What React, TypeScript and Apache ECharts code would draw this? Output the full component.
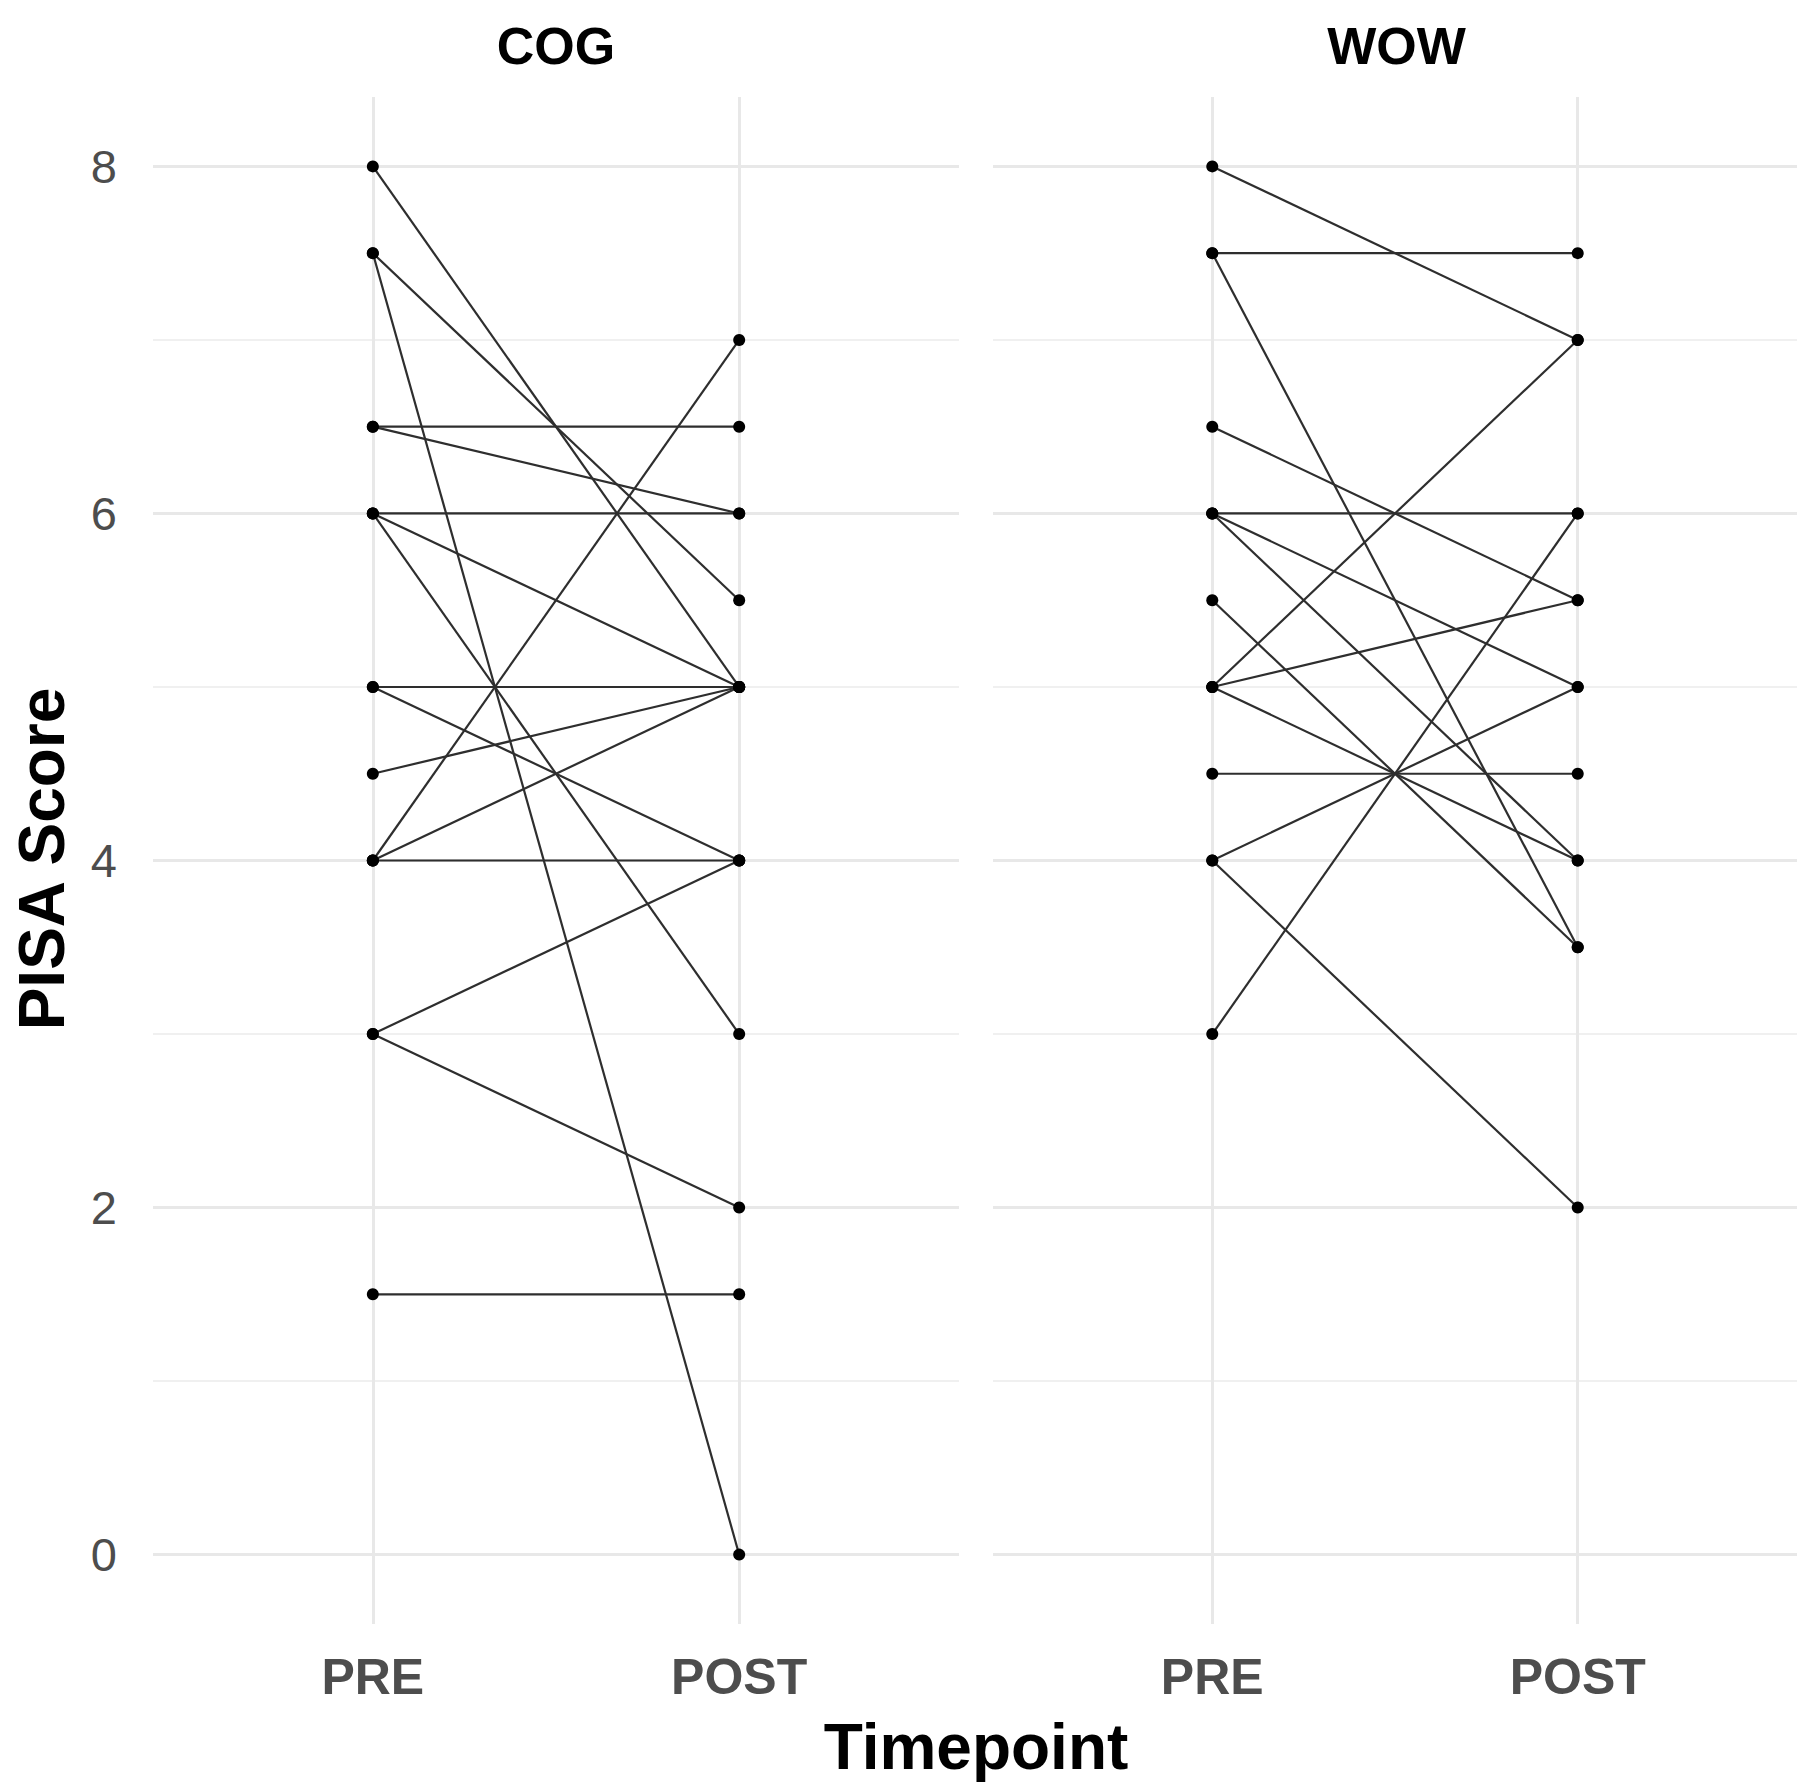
import React, { useEffect, useRef } from "react";
import * as echarts from "echarts";

const panels = ["COG", "WOW"];
const timepoints = ["PRE", "POST"];
const timepointX = [1, 2];
const yTickValues = [0, 2, 4, 6, 8];
const yMinorValues = [1, 3, 5, 7];

const cogPre = [8, 7.5, 7.5, 6.5, 6.5, 6, 6, 6, 5, 5, 4.5, 4, 4, 4, 3, 3, 1.5];
const cogPost = [5, 5.5, 0, 6.5, 6, 6, 5, 3, 5, 4, 5, 7, 5, 4, 4, 2, 1.5];
const wowPre = [8, 7.5, 7.5, 6.5, 6, 6, 6, 5.5, 5, 5, 5, 4.5, 4, 4, 3];
const wowPost = [7, 7.5, 3.5, 5.5, 6, 5, 4, 3.5, 7, 5.5, 4, 4.5, 5, 2, 6];

const FONT = "'Liberation Sans', Arial, sans-serif";

export default function App() {
  const ref = useRef<HTMLDivElement>(null);
  useEffect(() => {
    document.body.style.margin = "0";
    const chart = echarts.init(ref.current!, null, { renderer: "svg" });
    const panelData = [
      { pre: cogPre, post: cogPost },
      { pre: wowPre, post: wowPost },
    ];
    const grids = [
      { left: 153, top: 97, width: 806, height: 1527 },
      { left: 993, top: 97, width: 807, height: 1527 },
    ];
    const near = (a: number, b: number) => Math.abs(a - b) < 1e-6;
    const xAxes = grids.map((_, i) => ({
      type: "value",
      gridIndex: i,
      min: 0.4,
      max: 2.6,
      interval: 0.2,
      axisLine: { show: false },
      axisTick: { show: false },
      splitLine: { show: false },
      axisLabel: {
        margin: 28,
        fontFamily: FONT,
        fontSize: 50,
        fontWeight: "bold",
        color: "#4d4d4d",
        formatter: (v: number) => {
          const k = timepointX.findIndex((t) => near(t, v));
          return k >= 0 ? timepoints[k] : "";
        },
      },
    }));
    const yAxes = grids.map((_, i) => ({
      type: "value",
      gridIndex: i,
      min: -0.4,
      max: 8.4,
      interval: 0.2,
      axisLine: { show: false },
      axisTick: { show: false },
      splitLine: { show: false },
      axisLabel: {
        show: i === 0,
        margin: 36,
        fontFamily: FONT,
        fontSize: 47,
        color: "#4d4d4d",
        formatter: (v: number) => {
          const t = yTickValues.find((y) => near(y, v));
          return t !== undefined ? String(t) : "";
        },
      },
    }));
    const series: any[] = [];
    panelData.forEach((p, i) => {
      series.push({
        type: "scatter",
        xAxisIndex: i,
        yAxisIndex: i,
        data: [],
        silent: true,
        z: 0,
        markLine: {
          silent: true,
          z: 0,
          symbol: "none",
          label: { show: false },
          animation: false,
          data: [
            ...yMinorValues.map((v) => ({ yAxis: v, lineStyle: { color: "#f0f0f0", width: 1.8, type: "solid" } })),
            ...yTickValues.map((v) => ({ yAxis: v, lineStyle: { color: "#e8e8e8", width: 3, type: "solid" } })),
            ...timepointX.map((v) => ({ xAxis: v, lineStyle: { color: "#e8e8e8", width: 3, type: "solid" } })),
          ],
        },
      });
      p.pre.forEach((v, k) => {
        series.push({
          type: "line",
          xAxisIndex: i,
          yAxisIndex: i,
          data: [
            [timepointX[0], v],
            [timepointX[1], p.post[k]],
          ],
          symbol: "none",
          silent: true,
          z: 2,
          lineStyle: { color: "#2e2e2e", width: 2.2 },
        });
      });
      const pts: number[][] = [];
      p.pre.forEach((v, k) => {
        pts.push([timepointX[0], v]);
        pts.push([timepointX[1], p.post[k]]);
      });
      series.push({
        type: "scatter",
        xAxisIndex: i,
        yAxisIndex: i,
        data: pts,
        symbol: "circle",
        symbolSize: 12,
        silent: true,
        z: 3,
        itemStyle: { color: "#000000", opacity: 1 },
      });
    });
    chart.setOption({
      animation: false,
      backgroundColor: "#ffffff",
      grid: grids,
      xAxis: xAxes,
      yAxis: yAxes,
      series,
      graphic: [
        ...panels.map((name, i) => ({
          type: "text",
          x: grids[i].left + grids[i].width / 2,
          y: 46,
          style: {
            text: name,
            fontFamily: FONT,
            fontSize: 52,
            fontWeight: "bold",
            fill: "#000",
            textAlign: "center",
            textVerticalAlign: "middle",
          },
        })),
        {
          type: "text",
          x: 976,
          y: 1747,
          style: {
            text: "Timepoint",
            fontFamily: FONT,
            fontSize: 64,
            fontWeight: "bold",
            fill: "#000",
            textAlign: "center",
            textVerticalAlign: "middle",
          },
        },
        {
          type: "text",
          x: 42,
          y: 859,
          rotation: Math.PI / 2,
          style: {
            text: "PISA Score",
            fontFamily: FONT,
            fontSize: 64,
            fontWeight: "bold",
            fill: "#000",
            textAlign: "center",
            textVerticalAlign: "middle",
          },
        },
      ],
    });
    return () => chart.dispose();
  }, []);
  return (
    <div
      ref={ref}
      style={{ position: "absolute", left: 0, top: 0, width: 1800, height: 1788 }}
    />
  );
}
